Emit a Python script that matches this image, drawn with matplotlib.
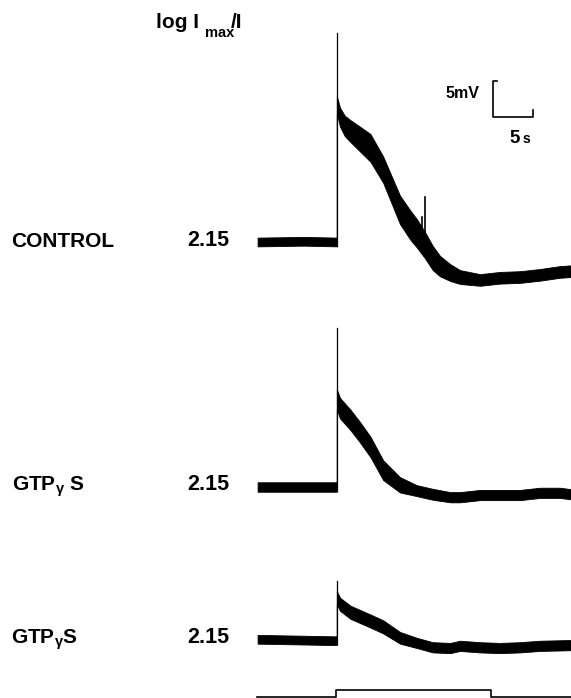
import matplotlib
matplotlib.use("Agg")
import matplotlib.pyplot as plt

# Light-evoked potentials, control vs GTPgammaS (log Imax/I = 2.15)

# time in s (0 = light on), potential in mV relative to the dark baseline
control_t = [-9.8, -4.0, 0.1, 0.1, 0.5, 1.1, 1.8, 3.0, 4.3, 5.9, 8.0, 9.3, 10.1,
             11.1, 12.1, 13.0, 14.3, 15.5, 18.0, 20.5, 23.0, 25.5, 28.0, 29.4]
control_mv = [0.0, 0.1, 0.0, 18.8, 17.1, 15.9, 15.2, 14.1, 12.9, 9.9, 4.4, 2.3, 1.2,
              -0.4, -2.2, -3.3, -4.2, -4.8, -5.2, -4.9, -4.8, -4.5, -4.1, -4.0]
control_noise = [1.2, 1.2, 1.2, 2.4, 2.6, 2.8, 3.0, 3.4, 3.8, 3.6, 3.9, 4.0, 3.9,
                 3.6, 3.3, 2.8, 2.3, 1.9, 1.6, 1.6, 1.6, 1.6, 1.6, 1.6]

gtp1_t = [-9.8, 0.1, 0.1, 0.5, 1.8, 3.0, 4.3, 5.9, 8.0, 10.1, 12.1, 14.3, 15.5,
          18.0, 20.5, 23.0, 25.5, 28.0, 29.4]
gtp1_mv = [0.0, 0.0, 12.0, 10.8, 9.2, 7.5, 5.5, 2.3, 0.3, -0.5, -1.0, -1.4, -1.4,
           -1.1, -1.1, -1.1, -0.8, -0.8, -1.0]
gtp1_noise = [1.3, 1.3, 2.8, 2.8, 2.8, 2.8, 2.8, 2.7, 2.1, 1.5, 1.5, 1.4, 1.4,
              1.4, 1.4, 1.4, 1.4, 1.4, 1.4]

gtp2_t = [-9.8, 0.1, 0.1, 0.5, 1.8, 4.3, 5.9, 8.0, 10.1, 12.1, 14.3, 15.5, 18.0,
          20.5, 23.0, 25.5, 29.4]
gtp2_mv = [0.1, -0.1, 5.8, 4.9, 3.8, 2.6, 1.8, 0.3, -0.4, -1.0, -1.1, -0.8, -1.0,
           -1.1, -1.0, -0.8, -0.7]
gtp2_noise = [1.2, 1.2, 1.8, 1.8, 1.8, 1.8, 1.8, 1.6, 1.4, 1.4, 1.4, 1.4, 1.4,
              1.4, 1.4, 1.4, 1.4]

# onset artefact peaks (mV) and the two small spikes on the control decay
onset_t = 0.1
onset_peak = [28.6, 21.8, 8.1]
extra_spike_t = [10.7, 11.1]
extra_spike_from = [1.6, 0.6]
extra_spike_to = [3.4, 6.2]

# light stimulus
stim_t = [-9.9, 0.0, 0.0, 19.4, 19.4, 29.4]
stim_on = [0, 0, 1, 1, 0, 0]

labels = ["CONTROL", r"GTP$_{\gamma}$ S", r"GTP$_{\gamma}$S"]
intensity = "2.15"

plt.rcParams['font.family'] = ['Liberation Sans', 'DejaVu Sans']
plt.rcParams['mathtext.fontset'] = 'custom'
plt.rcParams['mathtext.rm'] = 'Liberation Sans:bold'
plt.rcParams['mathtext.it'] = 'Liberation Sans:bold'
plt.rcParams['mathtext.bf'] = 'Liberation Sans:bold'

W, H = 571, 698
PX_S, PX_MV = 8.0, 7.3          # pixels per second / per mV
fig = plt.figure(figsize=(W / 100, H / 100), dpi=100)
ax = fig.add_axes([0, 0, 1, 1])
ax.set_xlim(-336 / PX_S, (W - 336) / PX_S)
ax.set_ylim(0, H / PX_MV)
ax.axis('off')

def ypix(p):
    return (H - p) / PX_MV

offsets = [ypix(242), ypix(487), ypix(640)]
traces = [(control_t, control_mv, control_noise),
          (gtp1_t, gtp1_mv, gtp1_noise),
          (gtp2_t, gtp2_mv, gtp2_noise)]

for (t, v, n), off, peak in zip(traces, offsets, onset_peak):
    lo = [off + a - b / 2 for a, b in zip(v, n)]
    hi = [off + a + b / 2 for a, b in zip(v, n)]
    ax.fill_between(t, lo, hi, color='black', lw=0.6, edgecolor='black')
    ax.plot([onset_t, onset_t], [off - 0.6, off + peak], color='black', lw=0.9)

for t, a, b in zip(extra_spike_t, extra_spike_from, extra_spike_to):
    ax.plot([t, t], [offsets[0] + a, offsets[0] + b], color='black', lw=1.2)

ax.plot(stim_t, [ypix(697.2) + s for s in stim_on], color='black', lw=1.2)

# scale bar 5 mV / 5 s
sx, sy = (493 - 336) / PX_S, ypix(117)
ax.plot([sx + 0.5, sx, sx, sx + 5, sx + 5], [sy + 5, sy + 5, sy, sy, sy + 1],
        color='black', lw=1.2)

def ftext(x, y, s, size=15, **kw):
    fig.text(x / W, 1 - y / H, s, fontsize=size, fontweight='bold',
             va='baseline', ha='left', **kw)

ftext(156, 28, "log I")
ftext(205, 37, "max", size=10.5)
ftext(231, 28, "/I")
ftext(446, 98, "5mV", size=11.5)
ftext(509, 143, "5", size=13.5)
ftext(523, 143, "s", size=10)

for lab, yb, xl in zip(labels, [247, 491, 644], [11, 12, 11]):
    ftext(xl, yb, lab)
    fig.text(187 / W, 1 - (yb - 1) / H, intensity, fontsize=15.5,
             fontweight='bold', va='baseline', ha='left')

plt.savefig("out.png", dpi=100)
